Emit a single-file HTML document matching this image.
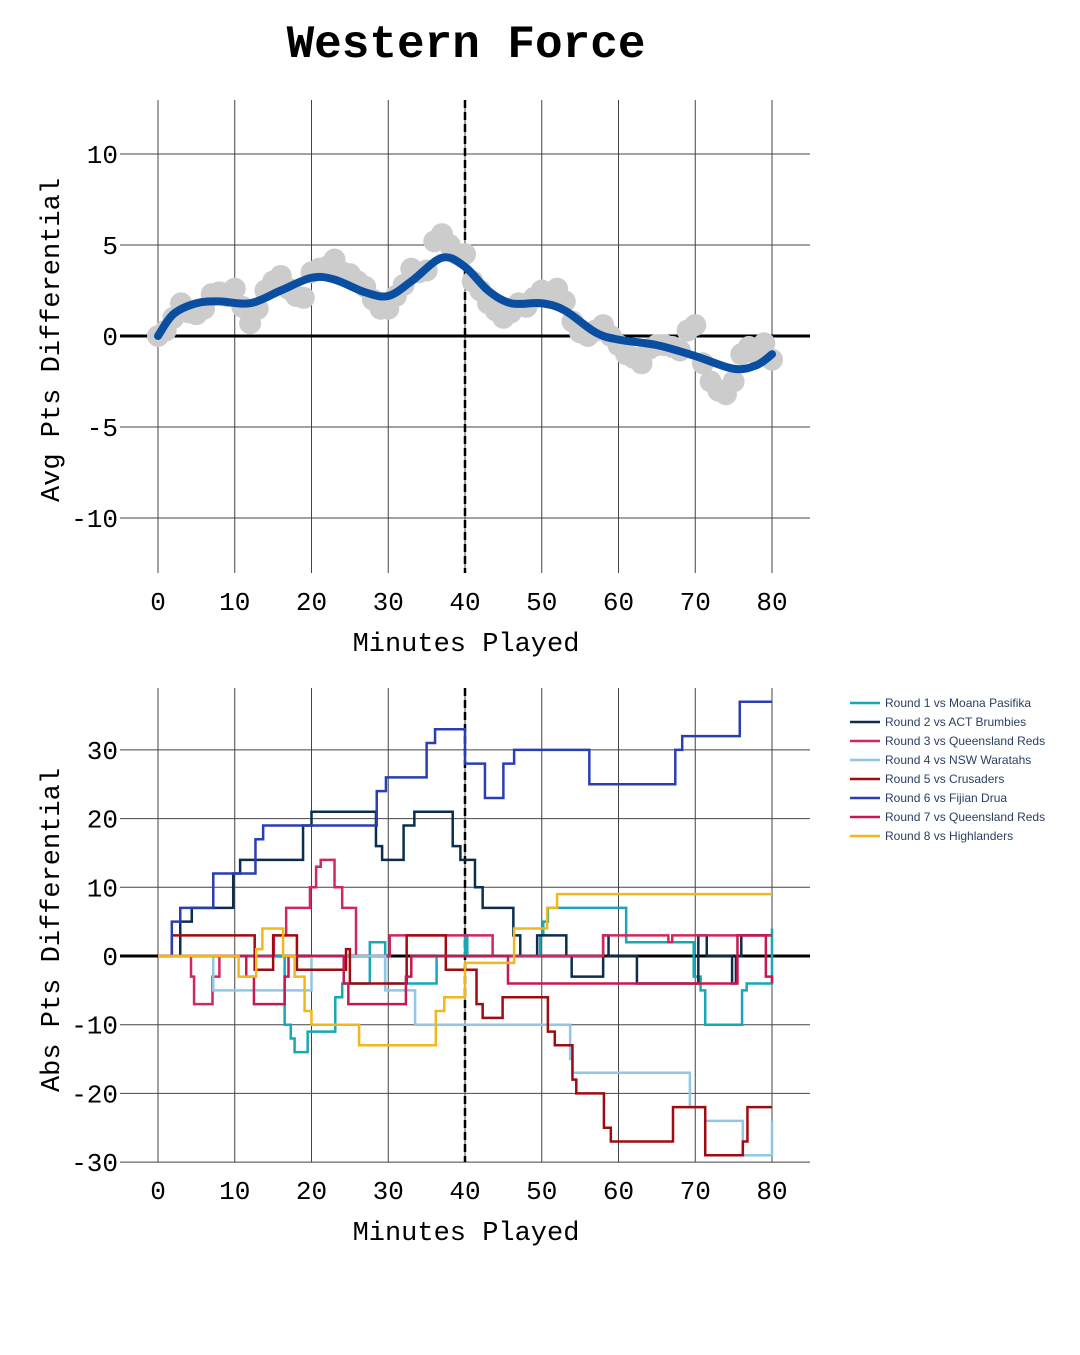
<!DOCTYPE html>
<html><head><meta charset="utf-8"><style>
body{margin:0;background:#fff}
svg text{font-family:"Liberation Mono","DejaVu Sans Mono",monospace}
</style></head><body>
<svg id="s" width="1080" height="1350" xmlns="http://www.w3.org/2000/svg">
<rect width="1080" height="1350" fill="#fff"/>
<text x="466" y="57" text-anchor="middle" font-size="46" font-weight="bold">Western Force</text>
<g id="topChart"></g>
<g id="botChart"></g>
<g id="legendG"></g>
</svg>
<script>
const xTicks=[0,10,20,30,40,50,60,70,80];
const yTicksTop=[-10,-5,0,5,10];
const yTicksBot=[-30,-20,-10,0,10,20,30];
const scatterVals=[0,0.3,1,1.8,1.3,1.2,1.5,2.3,2.4,2.2,2.6,1.6,0.7,1.5,2.5,3,3.3,2.6,2.2,2.1,3.5,3.7,3.8,4.2,3.5,3.4,3,2.7,2,1.5,1.5,2.2,2.8,3.7,3.5,3.6,5.2,5.6,5,4.5,4.5,3,2.5,1.8,1.4,1,1.3,1.8,1.6,2.1,2.5,2.1,2.6,1.9,0.8,0.2,0,0.3,0.6,0,-0.5,-1,-1.2,-1.5,-0.7,-0.5,-0.5,-0.6,-0.8,0.3,0.6,-1.5,-2.5,-3,-3.2,-2.5,-1,-0.6,-1,-0.4,-1.3];
const trendMin=[0,2,5,8,12,16,20,23,27,30,33,37,40,43,46,50,53,57,60,65,70,75,78,80];
const trendVal=[0,1.2,1.8,1.9,1.8,2.5,3.2,3.1,2.4,2.2,3,4.3,3.8,2.5,1.8,1.8,1.4,0.2,-0.2,-0.5,-1.1,-1.8,-1.6,-1.0];
const seriesNames=["Round 1 vs Moana Pasifika","Round 2 vs ACT Brumbies","Round 3 vs Queensland Reds","Round 4 vs NSW Waratahs","Round 5 vs Crusaders","Round 6 vs Fijian Drua","Round 7 vs Queensland Reds","Round 8 vs Highlanders"];
const seriesColors=["#17a8b5","#0b2e4f","#d0275f","#92c6e6","#9e0b12","#2a3eb1","#c8194f","#f0b81c"];
const r1=[[0,0],[16.5,-10],[17.3,-12],[17.8,-14],[19.5,-11],[23.1,-6],[24,-4],[27.6,2],[29.6,-4],[36.3,0],[40,3],[40.3,0],[49.8,3],[50.2,5],[50.8,7],[61,2],[69.8,-3],[70.7,-5],[71.3,-10],[76.1,-5],[76.7,-4],[80,4]];
const r2=[[0,0],[2.9,5],[4.4,7],[9.8,12],[10.7,14],[18.9,19],[20,21],[28.4,16],[29.2,14],[32,19],[33.4,21],[38.4,16],[39.4,14],[41.3,10],[42.3,7],[46.3,3],[47.2,0],[49.4,3],[53.2,0],[53.9,-3],[58,3],[58.7,0],[61.8,0],[62.4,-4],[68.3,-4],[70.4,3],[71.5,0],[74.8,-4],[75.3,0],[76,3],[80,3]];
const r3=[[0,0],[4.3,-3],[4.7,-7],[7.1,-3],[8,0],[15.1,3],[16.7,7],[19.8,10],[20.6,13],[21.2,14],[23,10],[24,7],[25.8,0],[30.2,3],[43.6,0],[58,3],[66.5,2],[67,3],[80,3]];
const r4=[[0,0],[7.2,-5],[20,0],[29.6,-5],[33.5,-10],[53.7,-15],[54,-17],[69.3,-22],[71.3,-24],[76.2,-29],[80,-24]];
const r5=[[0,0],[1.8,3],[12.3,3],[12.6,-2],[15,3],[18.1,-2],[24.5,1],[25,-4],[31.4,-4],[32.4,3],[37,3],[37.5,-2],[40.2,-2],[41.5,-7],[42.3,-9],[44.9,-6],[50.8,-11],[51.7,-13],[54,-18],[54.5,-20],[58.1,-25],[59,-27],[67.1,-22],[71.3,-29],[76.2,-27],[76.8,-22],[80,-22]];
const r6=[[0,0],[1.8,5],[2.9,7],[7.2,12],[12.7,17],[13.7,19],[28.5,24],[29.7,26],[35,31],[36.1,33],[40,28],[42.6,23],[45,28],[46.4,30],[56.2,25],[67.4,30],[68.3,32],[75.8,37],[80,37]];
const r7=[[0,0],[11.5,-3],[12.5,-7],[16.5,-3],[17,0],[24.2,-4],[24.8,-7],[32.3,-3],[33,0],[45.6,-4],[75,-4],[75.5,3],[78.9,3],[79.2,-3],[80,-4]];
const r8=[[0,0],[10.5,-3],[12.8,1],[13.6,4],[16.3,0],[17.8,-3],[19.1,-8],[20,-10],[26.2,-13],[36.2,-8],[37.3,-6],[40,-1],[46.4,4],[50.7,7],[52,9],[80,9]];
const allSeries=[r1,r2,r3,r4,r5,r6,r7,r8];

const NS="http://www.w3.org/2000/svg";
function mk(p,t,a){const e=document.createElementNS(NS,t);for(const k in a)e.setAttribute(k,a[k]);p.appendChild(e);return e;}
const X=m=>158+m*7.675;
const yT=v=>336-v*18.2;
const yB=v=>956-v*6.87;
function axes(g,yf,ticks,t0,b0,title,cy){
  xTicks.forEach(t=>{const l=mk(g,'line',{x1:X(t),x2:X(t),y1:t0,y2:b0,stroke:'#444','stroke-width':1});
    
    const tx=mk(g,'text',{x:X(t),y:b0+37,'text-anchor':'middle','font-size':26});tx.textContent=t;
    });
  ticks.forEach(t=>{const l=mk(g,'line',{x1:120,x2:810,y1:yf(t),y2:yf(t),stroke:t==0?'#000':'#444','stroke-width':t==0?3:1});
    
    const tx=mk(g,'text',{x:118,y:yf(t)+9,'text-anchor':'end','font-size':26});tx.textContent=t;
    });
  const dl=mk(g,'line',{x1:X(40),x2:X(40),y1:t0,y2:b0,stroke:'#000','stroke-width':2.5,'stroke-dasharray':'8,4'});
  
  const xt=mk(g,'text',{x:466,y:b0+78,'text-anchor':'middle','font-size':27});xt.textContent='Minutes Played';
  
  const yt=mk(g,'text',{x:0,y:0,'text-anchor':'middle','font-size':27,transform:`translate(59,${cy}) rotate(-90)`});yt.textContent=title;
  
}
const gTop=document.getElementById('topChart'),gBot=document.getElementById('botChart'),gLeg=document.getElementById('legendG');
axes(gTop,yT,yTicksTop,100,573,'Avg Pts Differential',340);
scatterVals.forEach((v,i)=>{const c=mk(gTop,'circle',{cx:X(i),cy:yT(v),r:11,fill:'#cccccc'});
  });
const pts=trendMin.map((m,i)=>[X(m),yT(trendVal[i])]);
let pd='M'+pts[0][0]+','+pts[0][1];
for(let i=0;i<pts.length-1;i++){const p0=pts[Math.max(0,i-1)],p1=pts[i],p2=pts[i+1],p3=pts[Math.min(pts.length-1,i+2)];
  pd+=` C${p1[0]+(p2[0]-p0[0])/6},${p1[1]+(p2[1]-p0[1])/6} ${p2[0]-(p3[0]-p1[0])/6},${p2[1]-(p3[1]-p1[1])/6} ${p2[0]},${p2[1]}`;}
const tl=mk(gTop,'path',{d:pd,fill:'none',stroke:'#0a4ea2','stroke-width':8,'stroke-linecap':'round'});

axes(gBot,yB,yTicksBot,688,1162,'Abs Pts Differential',930);
allSeries.forEach((s,k)=>{let p='M'+X(s[0][0])+','+yB(s[0][1]);
  for(let i=1;i<s.length;i++){p+=` H${X(s[i][0])} V${yB(s[i][1])}`;}
  p+=` H${X(80)}`;
  const e=mk(gBot,'path',{d:p,fill:'none',stroke:seriesColors[k],'stroke-width':2.5});
  
  
  const ly=703+k*19;
  const ll=mk(gLeg,'line',{x1:850,x2:880,y1:ly,y2:ly,stroke:seriesColors[k],'stroke-width':2.5});
  
  
  const lt=mk(gLeg,'text',{x:885,y:ly+4,'font-size':12,fill:'#2a3f5f',style:'font-family:"Liberation Sans",sans-serif'});lt.textContent=seriesNames[k];
  
  
});
</script>
</body></html>
